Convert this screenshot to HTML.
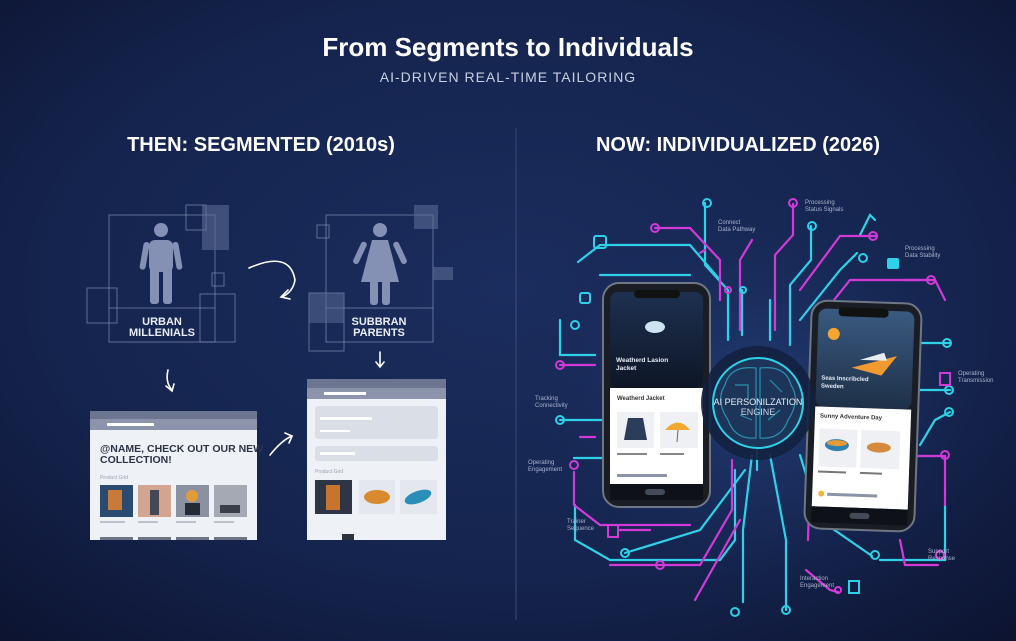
<!DOCTYPE html>
<html><head><meta charset="utf-8"><style>
html,body{margin:0;padding:0;width:1016px;height:641px;overflow:hidden;background:#0f1838}
svg{display:block}
text{font-family:"Liberation Sans",sans-serif}
</style></head><body>
<svg width="1016" height="641" viewBox="0 0 1016 641">
<defs>
<radialGradient id="bg" cx="50%" cy="45%" r="75%">
<stop offset="0" stop-color="#1b2d5e"/><stop offset="0.6" stop-color="#15244e"/><stop offset="1" stop-color="#0c1330"/>
</radialGradient>
<radialGradient id="glow" cx="50%" cy="50%" r="50%">
<stop offset="0" stop-color="#2a4a8a" stop-opacity="0.6"/><stop offset="1" stop-color="#15244e" stop-opacity="0"/>
</radialGradient>
<linearGradient id="scr1" x1="0" y1="0" x2="0" y2="1"><stop offset="0" stop-color="#1d3050"/><stop offset="1" stop-color="#0e1626"/></linearGradient>
<linearGradient id="scr2" x1="0" y1="0" x2="0" y2="1"><stop offset="0" stop-color="#3a5a80"/><stop offset="1" stop-color="#1e3048"/></linearGradient>
</defs>
<rect width="1016" height="641" fill="url(#bg)"/>
<ellipse cx="760" cy="400" rx="260" ry="230" fill="url(#glow)"/>

<text x="508" y="56" fill="#fff" font-size="26" font-weight="bold" text-anchor="middle">From Segments to Individuals</text>
<text x="508" y="82" fill="#c8cfdf" font-size="14" letter-spacing="1" text-anchor="middle">AI-DRIVEN REAL-TIME TAILORING</text>
<text x="261" y="151" fill="#fff" font-size="20" font-weight="bold" text-anchor="middle">THEN: SEGMENTED (2010s)</text>
<text x="738" y="151" fill="#fff" font-size="20" font-weight="bold" text-anchor="middle">NOW: INDIVIDUALIZED (2026)</text>
<line x1="516" y1="128" x2="516" y2="620" stroke="#3b4c78" stroke-width="1"/>

<!-- LEFT boxes -->
<g fill="none" stroke="#7d8bb0" stroke-opacity="0.7" stroke-width="1">
<rect x="109" y="215" width="106" height="127"/>
<line x1="109" y1="308" x2="215" y2="308"/>
<rect x="186" y="205" width="20" height="25"/>
<rect x="87" y="288" width="30" height="35"/>
<rect x="200" y="294" width="35" height="48"/>
<rect x="212" y="273" width="12" height="13"/>
<rect x="326" y="215" width="107" height="127"/>
<line x1="326" y1="308" x2="433" y2="308"/>
<rect x="309" y="293" width="35" height="58"/>
<rect x="317" y="225" width="12" height="13"/>
</g>
<rect x="202" y="205" width="27" height="45" fill="#5a6a95" fill-opacity="0.6"/>
<rect x="414" y="205" width="24" height="24" fill="#5a6a95" fill-opacity="0.6"/>
<rect x="433" y="267" width="20" height="13" fill="#5a6a95" fill-opacity="0.6"/>
<rect x="309" y="293" width="35" height="30" fill="#5a6a95" fill-opacity="0.55"/>
<!-- male -->
<g fill="#8591b4">
<circle cx="161" cy="230" r="7"/>
<rect x="149" y="240" width="24" height="32" rx="6"/>
<rect x="150" y="265" width="9" height="39" rx="3"/><rect x="163" y="265" width="9" height="39" rx="3"/>
<rect x="144" y="242" width="6" height="28" rx="3" transform="rotate(10 147 242)"/>
<rect x="172" y="242" width="6" height="28" rx="3" transform="rotate(-10 175 242)"/>
</g>
<!-- female -->
<g fill="#8591b4">
<circle cx="380" cy="230" r="7"/>
<path d="M372 240 L388 240 L399 282 L361 282 Z"/>
<rect x="370" y="280" width="8" height="25" rx="3"/><rect x="382" y="280" width="8" height="25" rx="3"/>
<rect x="362" y="242" width="6" height="24" rx="3" transform="rotate(25 365 242)"/>
<rect x="392" y="242" width="6" height="24" rx="3" transform="rotate(-25 395 242)"/>
</g>
<text x="162" y="325" fill="#e8ecf5" font-size="11" font-weight="bold" text-anchor="middle">URBAN</text>
<text x="162" y="336" fill="#e8ecf5" font-size="11" font-weight="bold" text-anchor="middle">MILLENIALS</text>
<text x="379" y="325" fill="#e8ecf5" font-size="11" font-weight="bold" text-anchor="middle">SUBBRAN</text>
<text x="379" y="336" fill="#e8ecf5" font-size="11" font-weight="bold" text-anchor="middle">PARENTS</text>
<!-- arrows -->
<g fill="none" stroke="#fff" stroke-width="1.6" stroke-linecap="round">
<path d="M249 268 Q290 250 295 280 Q293 292 282 297"/><path d="M288 290 L281 297 L290 299"/>
<path d="M168 370 Q165 382 172 390"/><path d="M166 386 L172 391 L174 384"/>
<line x1="380" y1="352" x2="380" y2="366"/><path d="M376 362 L380 367 L384 362"/>
<path d="M270 455 Q282 440 292 436"/><path d="M285 433 L292 436 L289 443"/>
</g>
<!-- browser 1 -->
<rect x="90" y="411" width="167" height="129" fill="#eef1f6"/>
<rect x="90" y="411" width="167" height="8" fill="#6c7690"/>
<rect x="90" y="419" width="167" height="11" fill="#8b94ab"/>
<rect x="107" y="423" width="47" height="3" fill="#fff"/>
<text x="100" y="452" fill="#2d3446" font-size="10.5" font-weight="bold">@NAME, CHECK OUT OUR NEW</text>
<text x="100" y="463" fill="#2d3446" font-size="10.5" font-weight="bold">COLLECTION!</text>
<text x="100" y="479" fill="#9aa0b0" font-size="5">Product Grid</text>
<rect x="100" y="485" width="33" height="32" fill="#2b4a72"/><rect x="108" y="490" width="14" height="20" fill="#c87a3a"/>
<rect x="138" y="485" width="33" height="32" fill="#d3a48f"/><rect x="150" y="490" width="9" height="25" fill="#40485a"/>
<rect x="176" y="485" width="33" height="32" fill="#8a92a2"/><circle cx="192" cy="496" r="6" fill="#e59a38"/><rect x="185" y="503" width="15" height="12" fill="#242a36"/>
<rect x="214" y="485" width="33" height="32" fill="#a4a9b3"/><rect x="220" y="505" width="20" height="8" fill="#3a3f4a"/>
<g fill="#bcc1cc"><rect x="100" y="521" width="25" height="2"/><rect x="138" y="521" width="20" height="2"/><rect x="176" y="521" width="20" height="2"/><rect x="214" y="521" width="20" height="2"/></g>
<g fill="#6d7484"><rect x="100" y="537" width="33" height="3"/><rect x="138" y="537" width="33" height="3"/><rect x="176" y="537" width="33" height="3"/><rect x="214" y="537" width="33" height="3"/></g>
<!-- browser 2 -->
<rect x="307" y="379" width="139" height="161" fill="#eef1f6"/>
<rect x="307" y="379" width="139" height="9" fill="#6c7690"/>
<rect x="307" y="388" width="139" height="11" fill="#8b94ab"/>
<rect x="324" y="392" width="42" height="3" fill="#fff"/>
<rect x="315" y="406" width="123" height="33" rx="3" fill="#dadee7"/>
<rect x="320" y="417" width="52" height="3" fill="#fff"/><rect x="320" y="430" width="30" height="2" fill="#fff"/>
<rect x="315" y="446" width="123" height="15" rx="3" fill="#dadee7"/>
<rect x="320" y="452" width="35" height="3" fill="#fff"/>
<text x="315" y="473" fill="#9aa0b0" font-size="5">Product Grid</text>
<rect x="315" y="480" width="37" height="34" fill="#2d3546"/><rect x="326" y="485" width="14" height="25" fill="#c8742e"/>
<rect x="359" y="480" width="36" height="34" fill="#e4e7ed"/><ellipse cx="377" cy="497" rx="13" ry="7" fill="#d78a2e"/>
<rect x="400" y="480" width="37" height="34" fill="#e4e7ed"/><ellipse cx="418" cy="497" rx="14" ry="6" fill="#2a8fb8" transform="rotate(-20 418 497)"/>
<rect x="342" y="534" width="12" height="6" fill="#2b3240"/>
<!-- RIGHT circuits -->
<g fill="none" stroke-width="2.2" stroke-linecap="round">
<g stroke="#2fd1e8">
<path d="M705 203 L705 265 L728 290 L728 340"/>
<path d="M811 226 L811 260 L790 285 L790 345"/>
<path d="M578 262 L600 245 L690 245 L720 280"/>
<path d="M600 275 L690 275"/>
<path d="M560 320 L560 355 L595 355"/>
<path d="M560 420 L603 420"/>
<path d="M574 458 L603 458"/>
<path d="M575 505 L575 540 L610 560 L720 560 L735 540 L735 470"/>
<path d="M625 553 L700 530 L745 470"/>
<path d="M743 602 L743 530 L752 455"/>
<path d="M786 610 L786 540 L770 455"/>
<path d="M872 556 L820 520 L800 455"/>
<path d="M857 253 L840 270 L800 320"/>
<path d="M950 343 L920 343"/>
<path d="M950 390 L920 390"/>
<path d="M950 412 L935 420 L920 445"/>
<path d="M945 505 L945 560 L880 560"/>
<path d="M860 235 L870 215 L875 220"/>
<path d="M757 440 L757 470"/>
<path d="M742 290 L742 335"/>
<path d="M770 300 L770 340"/>
</g>
<g stroke="#d23ad8">
<path d="M655 228 L690 228 L720 260 L720 300"/>
<path d="M793 204 L793 235 L775 255 L775 330"/>
<path d="M877 236 L840 236 L800 290"/>
<path d="M931 280 L850 280 L818 320"/>
<path d="M560 365 L595 365"/>
<path d="M580 437 L595 437"/>
<path d="M574 472 L574 505 L600 525 L690 525"/>
<path d="M620 530 L650 530"/>
<path d="M610 565 L700 565 L732 510 L732 460"/>
<path d="M695 600 L740 520"/>
<path d="M808 540 L810 470"/>
<path d="M806 570 L830 590 L838 592"/>
<path d="M910 456 L945 456 L945 505"/>
<path d="M900 540 L905 565 L938 565"/>
<path d="M905 280 L935 280 L945 300"/>
<path d="M740 330 L740 260 L752 240"/>
<path d="M700 253 L705 250"/>
</g>
</g>
<g fill="none" stroke-width="2">
<circle cx="707" cy="203" r="4" stroke="#2fd1e8"/><circle cx="812" cy="226" r="4" stroke="#2fd1e8"/>
<circle cx="873" cy="236" r="4" stroke="#d23ad8"/><circle cx="793" cy="203" r="4" stroke="#d23ad8"/>
<circle cx="655" cy="228" r="4" stroke="#d23ad8"/><circle cx="863" cy="258" r="4" stroke="#2fd1e8"/>
<circle cx="931" cy="280" r="4" stroke="#d23ad8"/><circle cx="947" cy="343" r="4" stroke="#2fd1e8"/>
<circle cx="949" cy="390" r="4" stroke="#2fd1e8"/><circle cx="949" cy="412" r="4" stroke="#2fd1e8"/>
<circle cx="945" cy="455" r="4" stroke="#d23ad8"/><circle cx="940" cy="555" r="4" stroke="#d23ad8"/>
<circle cx="875" cy="555" r="4" stroke="#2fd1e8"/><circle cx="838" cy="590" r="3" stroke="#d23ad8"/>
<circle cx="786" cy="610" r="4" stroke="#2fd1e8"/><circle cx="735" cy="612" r="4" stroke="#2fd1e8"/>
<circle cx="660" cy="565" r="4" stroke="#d23ad8"/><circle cx="625" cy="553" r="4" stroke="#2fd1e8"/>
<circle cx="560" cy="420" r="4" stroke="#2fd1e8"/><circle cx="560" cy="365" r="4" stroke="#d23ad8"/>
<circle cx="575" cy="325" r="4" stroke="#2fd1e8"/><circle cx="574" cy="465" r="4" stroke="#d23ad8"/>
<circle cx="728" cy="290" r="3" stroke="#d23ad8"/><circle cx="743" cy="290" r="3" stroke="#2fd1e8"/>
</g>
<g fill="#2fd1e8"><rect x="594" y="236" width="12" height="12" rx="2" fill="none" stroke="#2fd1e8" stroke-width="2"/><rect x="887" y="258" width="12" height="11" rx="2"/><rect x="580" y="293" width="10" height="10" rx="2" fill="none" stroke="#2fd1e8" stroke-width="2"/><rect x="849" y="581" width="10" height="12" fill="none" stroke="#2fd1e8" stroke-width="2"/></g>
<g fill="#d23ad8"><rect x="940" y="373" width="10" height="12" fill="none" stroke="#d23ad8" stroke-width="2"/><rect x="608" y="525" width="10" height="12" fill="none" stroke="#d23ad8" stroke-width="2"/></g>
<g fill="#aab3cc" font-size="6">
<text x="718" y="224">Connect</text><text x="718" y="231">Data Pathway</text>
<text x="805" y="204">Processing</text><text x="805" y="211">Status Signals</text>
<text x="905" y="250">Processing</text><text x="905" y="257">Data Stability</text>
<text x="958" y="375">Operating</text><text x="958" y="382">Transmission</text>
<text x="535" y="400">Tracking</text><text x="535" y="407">Connectivity</text>
<text x="528" y="464">Operating</text><text x="528" y="471">Engagement</text>
<text x="567" y="523">Trainer</text><text x="567" y="530">Sequence</text>
<text x="800" y="580">Interaction</text><text x="800" y="587">Engagement</text>
<text x="928" y="553">Support</text><text x="928" y="560">Response</text>
</g>
<!-- phone 1 -->
<rect x="603" y="283" width="107" height="224" rx="16" fill="#1a1d24" stroke="#6f7785" stroke-width="2"/>
<rect x="610" y="292" width="93" height="96" rx="8" fill="url(#scr1)"/>
<rect x="634" y="290" width="46" height="8" rx="4" fill="#111"/>
<ellipse cx="655" cy="327" rx="10" ry="6" fill="#cde4f2"/>
<text x="616" y="362" fill="#e8eef6" font-size="6.5" font-weight="bold">Weatherd Lasion</text>
<text x="616" y="370" fill="#e8eef6" font-size="6.5" font-weight="bold">Jacket</text>
<rect x="610" y="388" width="93" height="96" fill="#fff"/>
<text x="617" y="400" fill="#333" font-size="6" font-weight="bold">Weatherd Jacket</text>
<rect x="617" y="412" width="37" height="36" fill="#eef0f4"/><path d="M628 418 L643 418 L647 440 L624 440 Z" fill="#2c3d5a"/>
<rect x="660" y="412" width="38" height="36" fill="#eef0f4"/><path d="M665 430 Q678 415 690 430 Z" fill="#f0a830"/><line x1="678" y1="430" x2="677" y2="442" stroke="#666"/>
<rect x="617" y="453" width="30" height="2" fill="#888"/><rect x="660" y="453" width="24" height="2" fill="#888"/>
<rect x="617" y="474" width="50" height="3" fill="#8b93a8"/>
<rect x="610" y="484" width="93" height="16" fill="#0e1117"/>
<rect x="645" y="489" width="20" height="6" rx="3" fill="#444b58"/>
<!-- phone 2 -->
<g transform="rotate(2 863 415)">
<rect x="808" y="302" width="110" height="228" rx="16" fill="#1a1d24" stroke="#6f7785" stroke-width="2"/>
<rect x="815" y="310" width="96" height="98" rx="8" fill="url(#scr2)"/>
<rect x="835" y="308" width="50" height="9" rx="4" fill="#111"/>
<circle cx="831" cy="335" r="6" fill="#f4a430"/>
<path d="M850 368 L895 355 L880 375 Z" fill="#f09a30"/><path d="M858 360 L882 352 L885 360 Z" fill="#e8edf2"/>
<text x="820" y="381" fill="#e8eef6" font-size="6" font-weight="bold">Seas Inscribcled</text>
<text x="820" y="389" fill="#e8eef6" font-size="6" font-weight="bold">Sweden</text>
<rect x="815" y="408" width="96" height="100" fill="#fff"/>
<text x="820" y="419" fill="#333" font-size="6" font-weight="bold">Sunny Adventure Day</text>
<rect x="820" y="430" width="38" height="38" fill="#eef0f4"/><ellipse cx="838" cy="446" rx="12" ry="6" fill="#2f7fb0"/><ellipse cx="838" cy="444" rx="10" ry="3" fill="#e89a36"/>
<rect x="862" y="430" width="39" height="38" fill="#eef0f4"/><ellipse cx="880" cy="447" rx="12" ry="5" fill="#d58a3e"/>
<rect x="820" y="472" width="28" height="2" fill="#777"/><rect x="862" y="472" width="22" height="2" fill="#777"/>
<circle cx="824" cy="495" r="3" fill="#f2b634"/><rect x="830" y="494" width="50" height="3" fill="#8b93a8"/>
<rect x="815" y="508" width="96" height="16" fill="#0e1117"/>
<rect x="853" y="513" width="20" height="6" rx="3" fill="#444b58"/>
</g>
<!-- engine -->
<circle cx="758" cy="403" r="57" fill="#13213f" fill-opacity="0.9"/>
<circle cx="758" cy="403" r="45" fill="#1c3558" stroke="#2fd1e8" stroke-width="2"/>
<g fill="none" stroke="#2fa6c8" stroke-width="1.2" opacity="0.8">
<path d="M756 368 Q730 365 725 385 Q715 400 728 420 Q735 440 756 438 Z"/>
<path d="M760 368 Q786 365 791 385 Q801 400 788 420 Q781 440 760 438 Z"/>
<path d="M735 385 L748 385 L748 400 M770 380 L782 392 M740 415 L752 420 M768 420 L780 410"/>
</g>
<text x="758" y="405" fill="#e6eef8" font-size="9" text-anchor="middle">AI PERSONILZATION</text>
<text x="758" y="415" fill="#c8d4e6" font-size="9" text-anchor="middle">ENGINE</text>
</svg>
</body></html>
